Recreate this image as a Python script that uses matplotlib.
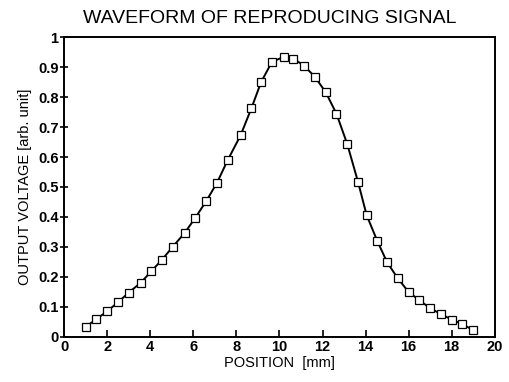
import matplotlib
matplotlib.use('Agg')
import matplotlib.pyplot as plt

plt.rcParams['font.family'] = ['Liberation Sans', 'DejaVu Sans']

# position [mm] and output voltage [arb. unit]
position = [1.0, 1.5, 2.0, 2.5, 3.0, 3.55, 4.05, 4.55, 5.05, 5.6, 6.1, 6.6,
            7.1, 7.6, 8.2, 8.7, 9.15, 9.65, 10.2, 10.65, 11.15, 11.65,
            12.15, 12.65, 13.15, 13.65, 14.05, 14.55, 15.0, 15.5, 16.0,
            16.5, 17.0, 17.5, 18.0, 18.5, 19.0]
voltage = [0.034, 0.059, 0.086, 0.115, 0.148, 0.180, 0.219, 0.258, 0.301,
           0.347, 0.398, 0.453, 0.514, 0.590, 0.673, 0.763, 0.850, 0.917,
           0.934, 0.928, 0.904, 0.867, 0.816, 0.744, 0.643, 0.517, 0.406,
           0.319, 0.249, 0.195, 0.150, 0.122, 0.096, 0.076, 0.058, 0.042,
           0.023]

x_ticks = [0, 2, 4, 6, 8, 10, 12, 14, 16, 18, 20]
y_ticks = [0, 0.1, 0.2, 0.3, 0.4, 0.5, 0.6, 0.7, 0.8, 0.9, 1]
y_tick_labels = ['0', '0.1', '0.2', '0.3', '0.4', '0.5', '0.6', '0.7',
                 '0.8', '0.9', '1']

fig = plt.figure(figsize=(5.09, 3.82), dpi=100)
ax = fig.add_axes([0.126, 0.118, 0.846, 0.785])

ax.plot(position, voltage, color='black', linewidth=1.4, marker='s',
        markersize=5.5, markerfacecolor='white', markeredgecolor='black',
        markeredgewidth=0.9)

ax.set_xlim(0, 20)
ax.set_ylim(0, 1)
ax.set_xticks(x_ticks)
ax.set_yticks(y_ticks)
ax.set_yticklabels(y_tick_labels)

ax.tick_params(axis='x', direction='in', length=5, width=1.2,
               labelsize=10.5, pad=2)
ax.tick_params(axis='y', direction='inout', length=6, width=1.2,
               labelsize=10.5, pad=1)
for lab in ax.get_xticklabels() + ax.get_yticklabels():
    lab.set_fontweight('bold')

for s in ax.spines.values():
    s.set_linewidth(1.4)

ax.set_xlabel('POSITION  [mm]', fontsize=10.5, labelpad=2)
ax.set_ylabel('OUTPUT VOLTAGE [arb. unit]', fontsize=10.5, labelpad=4)
ax.set_title('WAVEFORM OF REPRODUCING SIGNAL', fontsize=14, x=0.477,
             pad=10)

fig.savefig('out.png', dpi=100)
